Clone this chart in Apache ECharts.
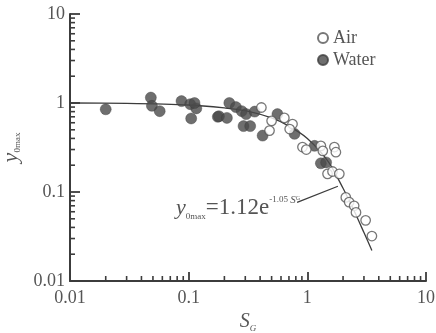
<!DOCTYPE html>
<html>
<head>
<meta charset="utf-8">
<script src="https://cdn.jsdelivr.net/npm/echarts@6/dist/echarts.min.js"></script>
<style>
  html, body { margin: 0; padding: 0; background: #fff; }
  #chart { width: 436px; height: 333px; }
</style>
</head>
<body>
<div id="chart"></div>
<script>
  // values
  var airPoints = [
    [0.41, 0.89], [0.50, 0.63], [0.48, 0.49], [0.64, 0.68], [0.75, 0.58],
    [0.71, 0.51], [0.91, 0.32], [0.98, 0.30], [1.30, 0.33], [1.35, 0.29],
    [1.69, 0.32], [1.74, 0.28], [1.48, 0.16], [1.63, 0.17], [1.86, 0.16],
    [2.11, 0.087], [2.25, 0.077], [2.48, 0.070], [2.57, 0.059], [3.10, 0.048],
    [3.50, 0.032]
  ];
  var waterPoints = [
    [0.020, 0.85], [0.048, 1.15], [0.049, 0.93], [0.057, 0.81], [0.087, 1.05],
    [0.103, 0.97], [0.116, 0.87], [0.105, 0.67], [0.112, 1.0], [0.176, 0.70],
    [0.22, 1.0], [0.18, 0.71], [0.21, 0.68], [0.25, 0.90], [0.28, 0.81],
    [0.305, 0.75], [0.29, 0.55], [0.33, 0.55], [0.36, 0.80], [0.42, 0.43],
    [0.56, 0.75], [0.78, 0.45], [1.15, 0.33], [1.30, 0.21], [1.44, 0.215]
  ];
  var fitCurve = [
    [0.01, 1.0], [0.03, 0.99], [0.1, 0.95], [0.2, 0.88], [0.3, 0.82],
    [0.5, 0.68], [0.7, 0.55], [1.0, 0.40], [1.5, 0.22], [2.0, 0.11],
    [2.5, 0.06], [3.0, 0.035], [3.5, 0.022]
  ];
  var leaderLine = [[0.82, 0.0765], [1.81, 0.116]];
  var majorTicks = [0.01, 0.1, 1, 10];

  // minor ticks at 2..9 of each decade
  var minorTicks = [];
  [0.01, 0.1, 1].forEach(function (d) {
    for (var m = 2; m <= 9; m++) minorTicks.push(+(d * m).toPrecision(3));
  });

  var ink = '#3c3c3c';
  var textCol = '#555';
  var serif = '"Liberation Serif", "DejaVu Serif", serif';

  function tickLabel(v) {
    var i = majorTicks.indexOf(+(+v).toPrecision(3));
    return i >= 0 ? String(majorTicks[i]) : '';
  }

  function minorTickRender(dir) {
    return function (params, api) {
      var p = api.coord([api.value(0), api.value(1)]);
      var len = 5;
      var shape = dir === 'x'
        ? { x1: p[0], y1: p[1], x2: p[0], y2: p[1] - len }
        : { x1: p[0], y1: p[1], x2: p[0] + len, y2: p[1] };
      return { type: 'line', shape: shape, style: { stroke: ink, lineWidth: 1.6 } };
    };
  }

  var chart = echarts.init(document.getElementById('chart'));
  chart.setOption({
    animation: false,
    backgroundColor: '#fff',
    grid: { left: 70, right: 10, top: 14, bottom: 52, outerBoundsMode: 'none', containLabel: false },
    legend: {
      data: ['Air', 'Water'],
      orient: 'vertical',
      left: 312, top: 24,
      itemWidth: 10, itemHeight: 10,
      itemGap: 4, itemTextGap: 13,
      textStyle: { fontFamily: serif, fontSize: 18, color: textCol }
    },
    xAxis: {
      type: 'log', logBase: 10, min: 0.01, max: 10,
      name: '{i|S}{s|G}',
      nameLocation: 'middle', nameGap: 27,
      nameTextStyle: {
        rich: {
          i: { fontFamily: serif, fontStyle: 'italic', fontSize: 20, color: textCol, lineHeight: 22 },
          s: { fontFamily: serif, fontStyle: 'italic', fontSize: 9, color: textCol, verticalAlign: 'bottom', lineHeight: 10 }
        }
      },
      axisLine: { show: true, lineStyle: { color: ink, width: 2 } },
      axisTick: { show: true, inside: true, length: 9, lineStyle: { color: ink, width: 1.8 } },
      axisLabel: { show: true, fontFamily: serif, fontSize: 18, color: textCol, margin: 8, formatter: tickLabel },
      splitLine: { show: false }
    },
    yAxis: {
      type: 'log', logBase: 10, min: 0.01, max: 10,
      name: '{i|y}{s|0max}',
      nameLocation: 'middle', nameGap: 45,
      nameTextStyle: {
        padding: [0, 0, 0, 0],
        rich: {
          i: { fontFamily: serif, fontStyle: 'italic', fontSize: 22, color: textCol, lineHeight: 22 },
          s: { fontFamily: serif, fontSize: 9, color: textCol, verticalAlign: 'bottom', lineHeight: 10 }
        }
      },
      axisLine: { show: true, lineStyle: { color: ink, width: 2 } },
      axisTick: { show: true, inside: true, length: 10, lineStyle: { color: ink, width: 1.8 } },
      axisLabel: { show: true, fontFamily: serif, fontSize: 18, color: textCol, margin: 5, formatter: tickLabel },
      splitLine: { show: false }
    },
    series: [
      {
        name: 'fit', type: 'line', data: fitCurve, smooth: 0.3, showSymbol: false,
        lineStyle: { color: ink, width: 1.3 }, z: 1,
        markLine: {
          symbol: 'none', silent: true, label: { show: false },
          lineStyle: { color: ink, width: 1.3, type: 'solid' },
          data: [[{ coord: leaderLine[0] }, { coord: leaderLine[1] }]]
        }
      },
      {
        name: 'Water', type: 'scatter', data: waterPoints, symbol: 'circle', symbolSize: 11,
        itemStyle: { color: '#4a4a4a', borderColor: '#3d3d3d', borderWidth: 0.5 }, z: 2
      },
      {
        name: 'Air', type: 'scatter', data: airPoints, symbol: 'circle', symbolSize: 9.5,
        itemStyle: { color: '#fff', borderColor: '#555', borderWidth: 1.3 }, z: 3
      },
      {
        name: 'xminor', type: 'custom',
        data: minorTicks.map(function (v) { return [v, 0.01]; }),
        renderItem: minorTickRender('x')
      },
      {
        name: 'yminor', type: 'custom',
        data: minorTicks.map(function (v) { return [0.01, v]; }),
        renderItem: minorTickRender('y')
      }
    ],
    graphic: [
      {
        type: 'text', left: 176, top: 195,
        style: {
          text: '{i|y}{s|0max}{n|=1.12e}{p|-1.05 }{pi|S}{ps|G}',
          rich: {
            i: { fontFamily: serif, fontStyle: 'italic', fontSize: 22, fill: textCol, lineHeight: 26 },
            s: { fontFamily: serif, fontSize: 9, fill: textCol, verticalAlign: 'bottom', lineHeight: 9 },
            n: { fontFamily: serif, fontSize: 23, fill: textCol, lineHeight: 26 },
            p: { fontFamily: serif, fontSize: 9, fill: textCol, verticalAlign: 'top', lineHeight: 10 },
            pi: { fontFamily: serif, fontStyle: 'italic', fontSize: 11, fill: textCol, verticalAlign: 'top', lineHeight: 11 },
            ps: { fontFamily: serif, fontSize: 6, fill: textCol, verticalAlign: 'top', lineHeight: 17 }
          }
        }
      }
    ]
  });
</script>
</body>
</html>
